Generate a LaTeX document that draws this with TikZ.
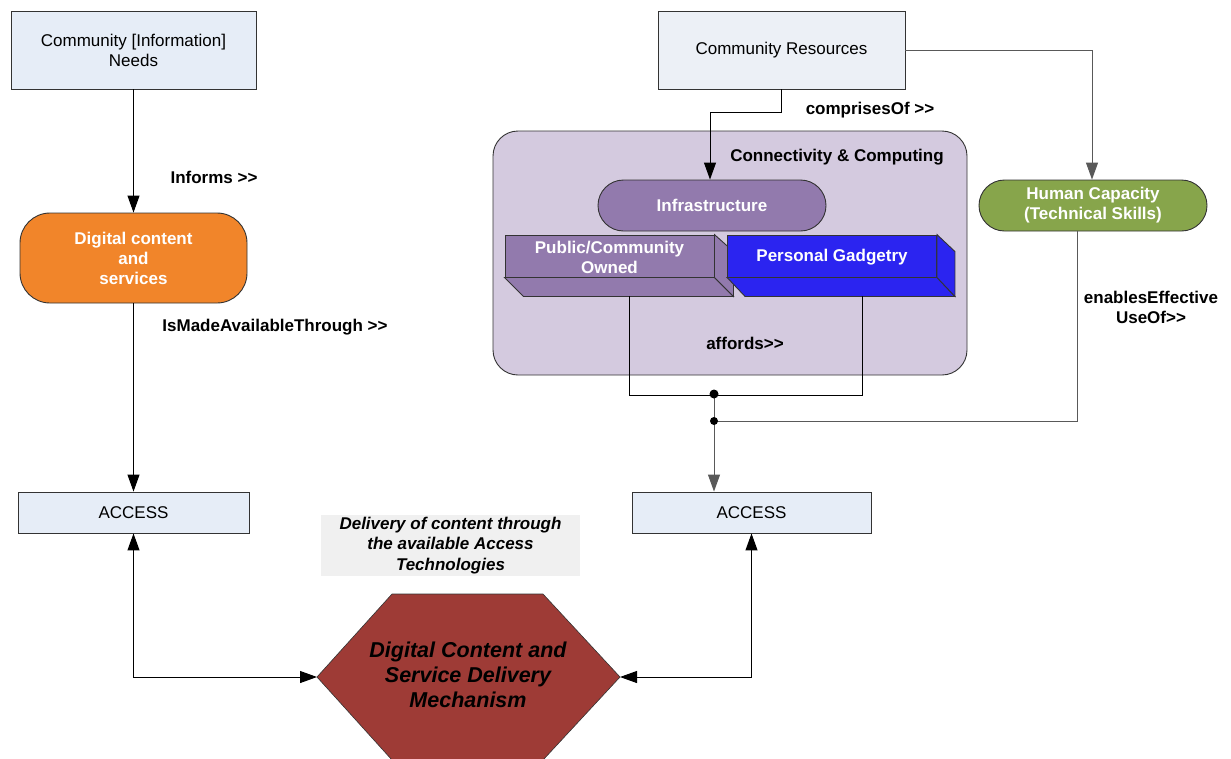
\documentclass[tikz,border=0pt]{standalone}
\usepackage{fontspec}
\setmainfont{Liberation Sans}
\usetikzlibrary{arrows.meta}

\definecolor{boxblue}{HTML}{E6EDF7}
\definecolor{boxgrey}{HTML}{ECF0F6}
\definecolor{orangefill}{HTML}{F1852A}
\definecolor{lavender}{HTML}{D4CADF}
\definecolor{purplefill}{HTML}{927AAD}
\definecolor{gadgetblue}{HTML}{2B24F0}
\definecolor{olive}{HTML}{87A54B}
\definecolor{brick}{HTML}{9E3B36}
\definecolor{captionbg}{HTML}{F0F0F0}
\definecolor{edge}{HTML}{333333}

\tikzset{
  normaltext/.style={font=\fontsize{17}{20}\selectfont},
  boldtext/.style={font=\fontsize{17}{20}\selectfont\bfseries},
  plainbox/.style={draw=edge, line width=0.9pt, normaltext, align=center, inner sep=0pt},
  pill/.style={draw=edge, line width=0.9pt, boldtext, text=white, align=center, inner sep=0pt},
  label/.style={boldtext, align=center, inner sep=0pt},
  conn/.style={line width=1pt, draw=black},
  greyconn/.style={line width=1pt, draw=black!65},
  tip/.style={-{Triangle[length=17pt,width=12pt]}},
  bothtips/.style={{Triangle[length=17pt,width=12pt]}-{Triangle[length=17pt,width=12pt]}},
  facebox/.style={draw=edge, line width=0.9pt, inner sep=0pt, minimum width=209pt, minimum height=42pt},
}

\begin{document}
\begin{tikzpicture}[x=1pt,y=-1pt]
\useasboundingbox (0,0) rectangle (1231,758);

% ---- top boxes
\node[plainbox, fill=boxblue, minimum width=245pt, minimum height=78pt] (needs) at (133.5,50)
  {Community [Information]\\Needs};
\node[plainbox, fill=boxgrey, minimum width=247pt, minimum height=78pt] (res) at (781.5,50)
  {Community Resources};

% ---- left column
\node[pill, fill=orangefill, rounded corners=30pt, minimum width=227pt, minimum height=90pt] (content) at (133.5,258)
  {Digital content\\and\\services};
\node[plainbox, fill=boxblue, minimum width=231pt, minimum height=41pt] (accL) at (133.5,512.5) {ACCESS};

% ---- connectivity & computing group
\node[draw=edge, line width=0.9pt, fill=lavender, rounded corners=25pt, minimum width=474pt, minimum height=244pt, inner sep=0pt] (group) at (730,253) {};
\node[label] (cc) at (837,157) {Connectivity \& Computing};
\node[pill, fill=purplefill, rounded corners=25.5pt, minimum width=228pt, minimum height=51pt] (infra) at (712,205.5) {Infrastructure};

% public / community owned block
\node[facebox, fill=purplefill] (pub) at (609.5,256) {};
\fill[purplefill, draw=edge, line width=0.9pt] (pub.south west) -- (pub.south east) -- ([shift={(19,19)}]pub.south east) -- ([shift={(19,19)}]pub.south west) -- cycle;
\fill[purplefill, draw=edge, line width=0.9pt] (pub.north east) -- ([shift={(19,17)}]pub.north east) -- ([shift={(19,19)}]pub.south east) -- (pub.south east) -- cycle;
\node[boldtext, text=white, align=center, inner sep=0pt] (pubtext) at ([yshift=-1pt]pub.center) {Public/Community\\Owned};

% personal gadgetry block
\node[facebox, fill=gadgetblue] (gad) at (832,256) {};
\fill[gadgetblue, draw=edge, line width=0.9pt] (gad.south west) -- (gad.south east) -- ([shift={(18,19)}]gad.south east) -- ([shift={(18,19)}]gad.south west) -- cycle;
\fill[gadgetblue, draw=edge, line width=0.9pt] (gad.north east) -- ([shift={(18,17)}]gad.north east) -- ([shift={(18,19)}]gad.south east) -- (gad.south east) -- cycle;
\node[boldtext, text=white, inner sep=0pt] (gadtext) at ([yshift=-1pt]gad.center) {Personal Gadgetry};

\node[label] (affords) at (745,343) {affords>{}>};

% ---- human capacity
\node[pill, fill=olive, rounded corners=25.5pt, minimum width=228pt, minimum height=51pt] (skills) at (1093,205.5)
  {Human Capacity\\(Technical Skills)};

% ---- right access
\node[plainbox, fill=boxblue, minimum width=239pt, minimum height=41pt] (accR) at (751.5,512.5) {ACCESS};

% ---- delivery mechanism hexagon
\fill[brick, draw=edge, line width=0.6pt] (317,677) -- (392,594) -- (543,594) -- (620,677) -- (543,760) -- (392,760) -- cycle;
\coordinate (hexL) at (317,677);
\coordinate (hexR) at (620,677);
\node[font=\fontsize{21.5}{25}\selectfont\bfseries\itshape, align=center, inner sep=0pt] (mech) at (468,675)
  {Digital Content and\\Service Delivery\\Mechanism};

\node[fill=captionbg, font=\fontsize{17}{20.5}\selectfont\bfseries\itshape, align=center, minimum width=259pt, minimum height=61pt, inner sep=0pt] (caption) at (450.5,545.5)
  {Delivery of content through\\the available Access\\Technologies};

% ---- edge labels
\node[label] (informs) at (214,177) {Informs >{}>};
\node[label] (through) at (275,327) {IsMadeAvailableThrough >{}>};
\node[label] (comprises) at (870,110) {comprisesOf >{}>};
\node[label] (enables) at (1151,307) {enablesEffective\\UseOf>{}>};

% ---- connectors
\draw[conn, tip] (needs) -- (content);
\draw[conn, tip] (content) -- (accL);
\draw[conn, bothtips] (accL) |- (hexL);
\draw[conn, bothtips] (hexR) -| (accR);
\draw[conn, tip] (res.south) -- ++(0,23) -| ([xshift=-2pt]infra.north);
\draw[greyconn, tip] (res.east) -| ([xshift=-1pt]skills.north);

\coordinate (pubB) at ([shift={(20,19)}]pub.south);
\coordinate (gadB) at ([shift={(30,19)}]gad.south);
\coordinate (j1) at (714,394);
\coordinate (j2) at (714,421);
\draw[conn] (pubB) -- ++(0,99) -| (gadB);
\draw[greyconn] (j1) -- (j2);
\draw[greyconn, tip] (j2) -- (j2 |- accR.north);
\draw[greyconn] (j2) -| ([xshift=-16pt]skills.south);
\fill (j1) circle (4.5pt);
\fill (j2) circle (4pt);
\end{tikzpicture}
\end{document}
